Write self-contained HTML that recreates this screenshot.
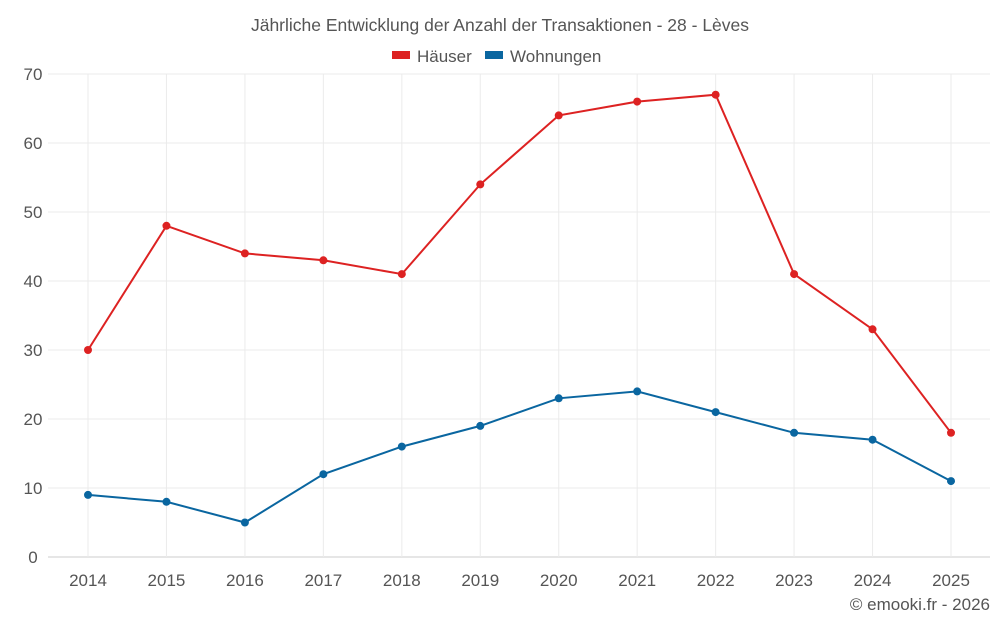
<!DOCTYPE html>
<html><head><meta charset="utf-8"><style>
body{margin:0;background:#fff;font-family:"Liberation Sans",sans-serif;}
svg text{font-family:"Liberation Sans",sans-serif;}
</style></head><body>
<svg id="c" width="1000" height="625">
<text x="500" y="31" text-anchor="middle" font-size="17.5" fill="#555">Jährliche Entwicklung der Anzahl der Transaktionen - 28 - Lèves</text>
<g>
<g><rect x="392" y="51" width="18" height="8" fill="#dd2222"/><text x="417" y="62" font-size="17" fill="#555">Häuser</text></g>
<g><rect x="485" y="51" width="18" height="8" fill="#0a66a0"/><text x="510" y="62" font-size="17" fill="#555">Wohnungen</text></g>
</g>
<g id="grid"></g>
<g id="axes"></g>
<g id="series"></g>
<text x="990" y="610" text-anchor="end" font-size="17" fill="#555">© emooki.fr - 2026</text>
</svg>
<script>
const years=[2014,2015,2016,2017,2018,2019,2020,2021,2022,2023,2024,2025];
const haeuser=[30,48,44,43,41,54,64,66,67,41,33,18];
const wohnungen=[9,8,5,12,16,19,23,24,21,18,17,11];
const yTicks=[0,10,20,30,40,50,60,70];
const NS="http://www.w3.org/2000/svg";
const L=48,R=990,T=74,B=557;
const xs=i=>88+i*(951-88)/(years.length-1);
const ys=v=>B-(v/70)*(B-T);
function mk(t,a,p){const e=document.createElementNS(NS,t);for(const k in a)e.setAttribute(k,a[k]);p.appendChild(e);return e;}
const g=document.getElementById('grid'),ax=document.getElementById('axes'),s=document.getElementById('series');
yTicks.forEach(v=>{
 const l=mk('line',{x1:L,x2:R,y1:ys(v),y2:ys(v),stroke:v===0?'#ccc':'#ebebeb'},g);
 
 
 const t=mk('text',{x:33,y:ys(v)+6,'text-anchor':'middle','font-size':17,fill:'#555'},ax);t.textContent=v;
 
 
});
years.forEach((y,i)=>{
 const l=mk('line',{x1:xs(i),x2:xs(i),y1:T,y2:B,stroke:'#ebebeb'},g);
 
 
 const t=mk('text',{x:xs(i),y:586,'text-anchor':'middle','font-size':17,fill:'#555'},ax);t.textContent=y;
 
 
});
[[haeuser,'#dd2222','haeuser'],[wohnungen,'#0a66a0','wohnungen']].forEach(([d,c,n])=>{
 const p=mk('polyline',{points:d.map((v,i)=>xs(i)+','+ys(v)).join(' '),fill:'none',stroke:c,'stroke-width':2},s);
 
 
 d.forEach((v,i)=>{const c2=mk('circle',{cx:xs(i),cy:ys(v),r:4,fill:c},s);
 
 });
});
</script>
</body></html>
